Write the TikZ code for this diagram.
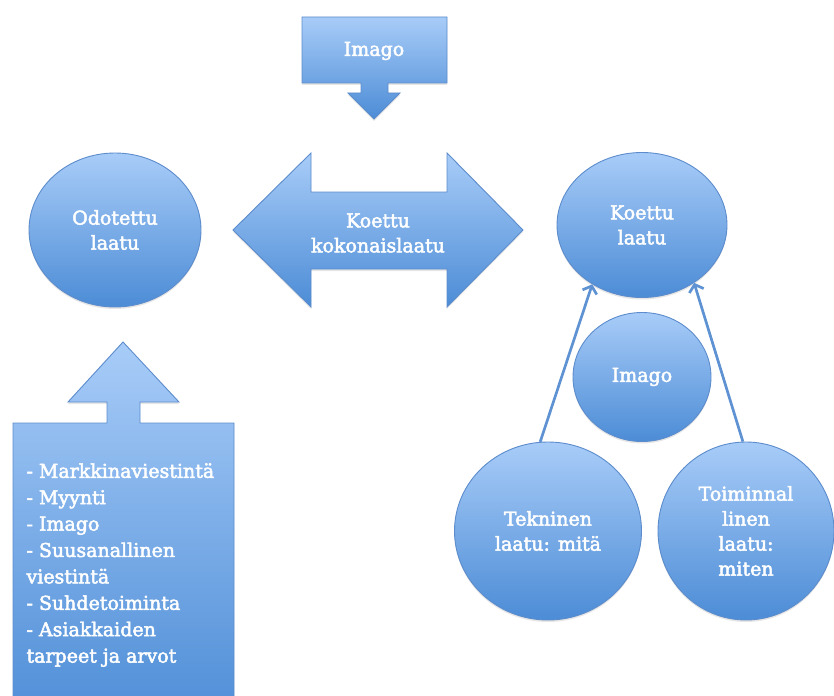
\documentclass[tikz,border=0pt]{standalone}
\usepackage{fontspec}
\setmainfont{DejaVu Serif}[FakeBold=2.5]
\usetikzlibrary{shapes.geometric,arrows.meta,shadows}
\definecolor{bluetop}{RGB}{168,204,248}
\definecolor{bluebot}{RGB}{76,140,214}
\definecolor{blueline}{RGB}{92,140,204}
\definecolor{arrowblue}{RGB}{94,146,210}
\begin{document}
\begin{tikzpicture}[x=1pt,y=-1pt,
  blob/.style={top color=bluetop,bottom color=bluebot,draw=blueline,line width=0.9pt,
    drop shadow={opacity=0.2,shadow xshift=0pt,shadow yshift=-2pt}},
  ell/.style={blob,ellipse,inner sep=0pt,text=white,align=center,font=\fontsize{19}{25}\selectfont},
  lbl/.style={text=white,align=center,font=\fontsize{19}{25}\selectfont},
  conn/.style={arrowblue,line width=2.7pt,-{Straight Barb[length=6.5pt,width=15pt]}}
]
\useasboundingbox (0,0) rectangle (834,695);
\clip (0,0) rectangle (834,695);

% top Imago callout
\path[blob] (302,17) -- (447,17) -- (447,83) -- (388,83) -- (388,93) -- (400,93) -- (374,119)
  -- (348,93) -- (361,93) -- (361,83) -- (302,83) -- cycle;
\node[lbl] (imagotop) at (374,51) {Imago};

% double arrow
\path[blob] (233,230) -- (311,153) -- (311,192) -- (447,192) -- (447,153) -- (523,230)
  -- (447,307) -- (447,269) -- (311,269) -- (311,307) -- cycle;
\node[lbl] (kokonais) at (378,233) {Koettu\\kokonaislaatu};

% left up-arrow callout
\path[blob] (123,342) -- (179,402) -- (140,402) -- (140,423) -- (234,423) -- (234,730)
  -- (13,730) -- (13,423) -- (107,423) -- (107,402) -- (68,402) -- cycle;
\node[text=white,align=left,anchor=west,font=\fontsize{19}{26.4}\selectfont] (lista) at (23,565)
  {- Markkinaviestintä\\- Myynti\\- Imago\\- Suusanallinen\\viestintä\\- Suhdetoiminta\\- Asiakkaiden\\tarpeet ja arvot};

% circles
\node[ell,minimum width=172pt,minimum height=154pt] (odotettu) at (115,230) {Odotettu\\laatu};
\node[ell,minimum width=170pt,minimum height=145pt] (koettu) at (642,225) {Koettu\\laatu};
\node[ell,minimum width=138pt,minimum height=129pt] (imago) at (642,377) {Imago};
\node[ell,minimum width=187pt,minimum height=178pt] (tekninen) at (548,531) {Tekninen\\laatu: mitä};
\node[ell,minimum width=176pt,minimum height=178pt] (toiminnal) at (746,531) {Toiminnal\\linen\\laatu:\\miten};

% connectors
\draw[conn] (tekninen.95) -- (koettu.230);
\draw[conn] (toiminnal.92) -- (koettu.312);
\end{tikzpicture}
\end{document}
